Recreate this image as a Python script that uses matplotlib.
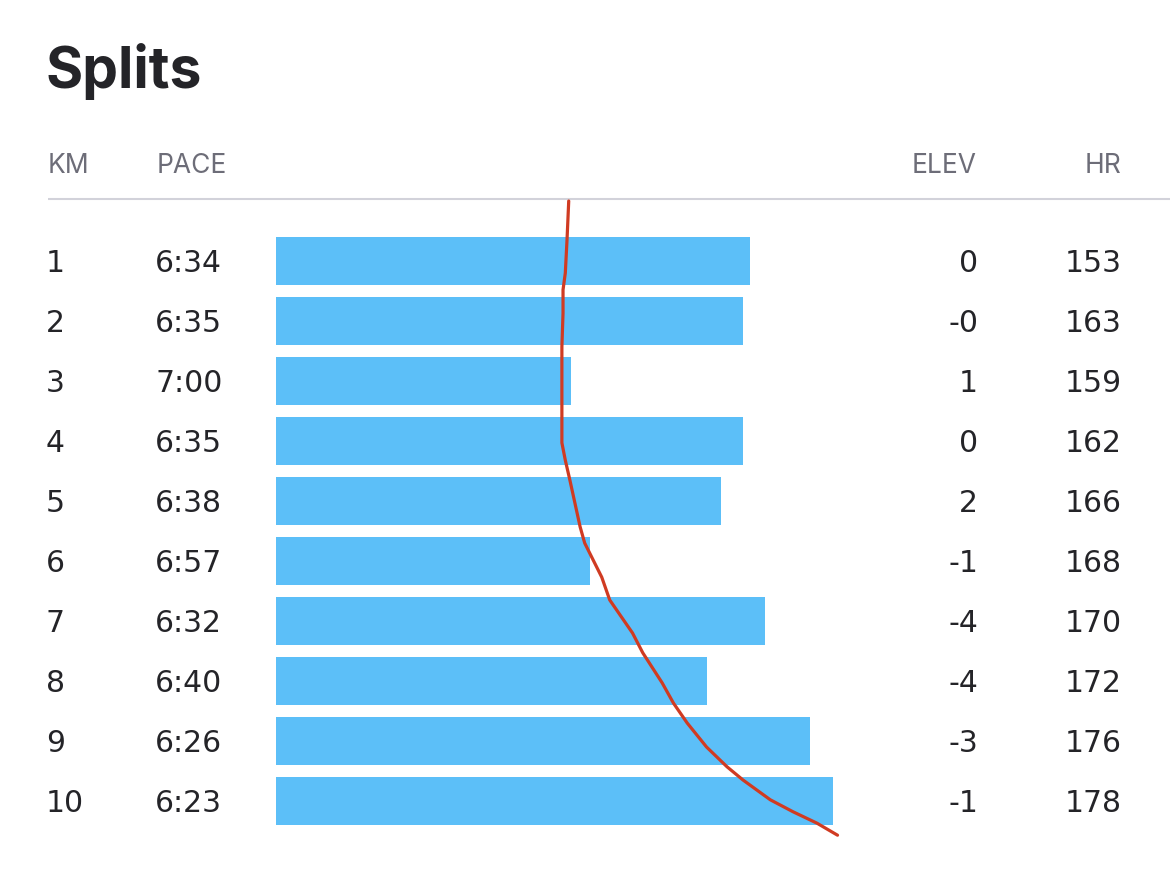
import numpy as np
import matplotlib.pyplot as plt

# split data
km = [1, 2, 3, 4, 5, 6, 7, 8, 9, 10]
pace_sec = [394, 395, 420, 395, 398, 417, 392, 400, 386, 383]
elev_labels = ["0", "-0", "1", "0", "2", "-1", "-4", "-4", "-3", "-1"]
hr = [153, 163, 159, 162, 166, 168, 170, 172, 176, 178]

# hand-drawn red trend stroke, in (speed m/s, km row) units of the bar axes
trend_speed = [2.379, 2.3775, 2.376, 2.374, 2.374, 2.373, 2.373, 2.376, 2.380, 2.389,
               2.393, 2.408, 2.415, 2.435, 2.444, 2.461, 2.471, 2.483, 2.500, 2.518,
               2.532, 2.556, 2.576, 2.597, 2.615]
trend_km = [0.0, 0.65, 1.2, 1.48, 1.87, 2.43, 4.03, 4.32, 4.65, 5.43,
            5.70, 6.27, 6.65, 7.20, 7.53, 8.03, 8.37, 8.70, 9.10, 9.43,
            9.65, 9.98, 10.18, 10.37, 10.57]

plt.rcParams['font.family'] = ['Inter', 'DejaVu Sans']

W, H = 1170, 889
fig = plt.figure(figsize=(W / 100, H / 100), dpi=100)
fig.patch.set_facecolor('white')

# background axes in pixel units for the table text
ax = fig.add_axes([0, 0, 1, 1])
ax.set_xlim(0, W)
ax.set_ylim(H, 0)
ax.axis('off')

dark = '#242428'
grey = '#6d6d78'
row_font = ['DejaVu Sans']

ax.text(46, 88, "Splits", fontsize=41, fontweight='bold', color=dark, va='baseline', ha='left')

ax.text(48, 173, "KM", fontsize=19, color=grey, va='baseline', ha='left')
ax.text(157, 173, "PACE", fontsize=19, color=grey, va='baseline', ha='left')
ax.text(977, 173, "ELEV", fontsize=19, color=grey, va='baseline', ha='right')
ax.text(1121, 173, "HR", fontsize=19, color=grey, va='baseline', ha='right')

ax.plot([48, W], [199, 199], color='#d2d2da', lw=1.5, solid_capstyle='butt')

for i in range(len(km)):
    yb = 272 + (km[i] - 1) * 60
    pace_txt = "%d:%02d" % (pace_sec[i] // 60, pace_sec[i] % 60)
    ax.text(46, yb, str(km[i]), fontsize=21.5, family=row_font, color=dark, va='baseline', ha='left')
    ax.text(155, yb, pace_txt, fontsize=21.5, family=row_font, color=dark, va='baseline', ha='left')
    ax.text(978, yb, elev_labels[i], fontsize=21.5, family=row_font, color=dark, va='baseline', ha='right')
    ax.text(1122, yb, str(hr[i]), fontsize=21.5, family=row_font, color=dark, va='baseline', ha='right')

# bar axes: bar length follows speed
speed = 1000.0 / np.array(pace_sec)
v0 = 2.122
px_per_ms = 1139.0
bx = fig.add_axes([276 / W, 0, 600 / W, 1])
bx.set_xlim(v0, v0 + 600 / px_per_ms)
bx.set_ylim(1 + (H - 261) / 60, 1 - 261 / 60)
bx.axis('off')
bx.patch.set_alpha(0)

bx.barh(km, speed - v0, left=v0, height=0.8, color='#5cbff8')
bx.plot(trend_speed, trend_km, color='#d03b22', lw=2.3, solid_capstyle='round',
        solid_joinstyle='round')

fig.savefig('out.png', dpi=100)
